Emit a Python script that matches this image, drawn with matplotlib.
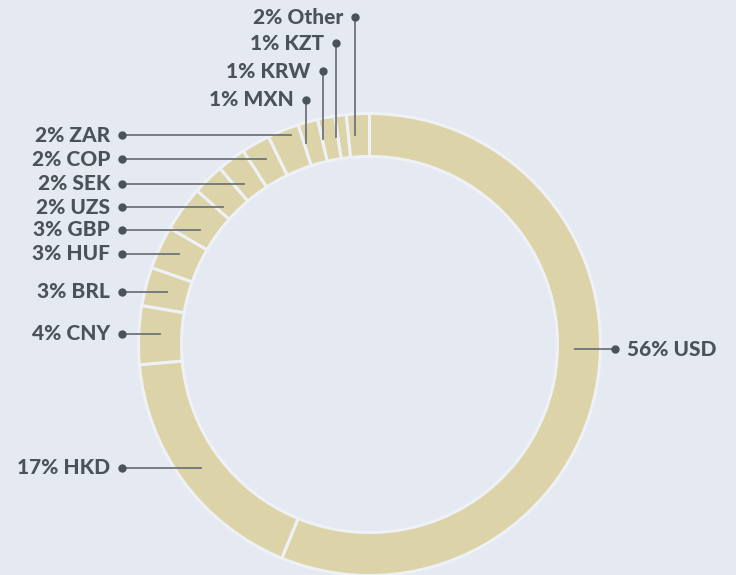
import numpy as np
import matplotlib
matplotlib.use("Agg")
import matplotlib.pyplot as plt

# currency split, clockwise from 12 o'clock
currencies = ["USD", "HKD", "CNY", "BRL", "HUF", "GBP", "UZS", "SEK",
              "COP", "ZAR", "MXN", "KRW", "KZT", "Other"]
shares = [56.2, 17.4, 4.1, 2.7, 3.0, 3.2, 2.2, 2.0, 2.0, 2.2, 1.4, 1.2, 0.8, 1.6]
pct_labels = ["56%", "17%", "4%", "3%", "3%", "3%", "2%", "2%",
              "2%", "2%", "1%", "1%", "1%", "2%"]

# where each label sits (pixel coords, y down) and which way its leader runs
label_pos = {
    "USD": (615, 349, "right"),
    "HKD": (122, 468, "left"),
    "CNY": (122, 334, "left"),
    "BRL": (122, 292, "left"),
    "HUF": (122, 254, "left"),
    "GBP": (122, 230, "left"),
    "UZS": (122, 207, "left"),
    "SEK": (122, 184, "left"),
    "COP": (122, 159, "left"),
    "ZAR": (122, 135, "left"),
    "MXN": (306, 100, "up"),
    "KRW": (323, 71, "up"),
    "KZT": (336, 43, "up"),
    "Other": (355, 17, "up"),
}

W, H = 736, 575
bg = "#e4e9f2"
ring = "#ddd3a9"
ink = "#4b535a"
cx, cy = 369.5, H - 344.5
r_out, width = 231, 43
r_mid = r_out - width / 2
font = dict(fontsize=15, fontweight=900, family="Lato", color=ink)

fig = plt.figure(figsize=(W / 100, H / 100), dpi=100, facecolor=bg)
ax = fig.add_axes([0, 0, 1, 1])
ax.set_facecolor(bg)

ax.pie(shares, center=(cx, cy), radius=r_out, startangle=90, counterclock=False,
       colors=[ring] * len(shares),
       wedgeprops=dict(width=width, edgecolor="#eef1f5", linewidth=2.2))
ax.set_xlim(0, W)
ax.set_ylim(0, H)
ax.set_aspect("equal")
ax.axis("off")

total = sum(shares)
cum = np.cumsum([0] + shares)
for i, cur in enumerate(currencies):
    mid = (cum[i] + shares[i] / 2) / total * 360  # clockwise from top
    a = np.radians(mid)
    mx = cx + r_mid * np.sin(a)
    my = cy + r_mid * np.cos(a)
    px, py, side = label_pos[cur]
    py = H - py
    txt = f"{pct_labels[i]} {cur}"
    if side == "up":
        ax.plot([px, px], [my, py], color="#6e747a", lw=1.3, zorder=3)
        ax.text(px - 12, py, txt, ha="right", va="center", **font)
    elif side == "left":
        ax.plot([mx, px], [py, py], color="#6e747a", lw=1.3, zorder=3)
        ax.text(px - 12, py, txt, ha="right", va="center", **font)
    else:
        ax.plot([mx, px], [py, py], color="#6e747a", lw=1.3, zorder=3)
        ax.text(px + 12, py, txt, ha="left", va="center", **font)
    ax.plot(px, py, "o", color=ink, ms=5, zorder=4)

fig.savefig("out.png", dpi=100, facecolor=bg)
